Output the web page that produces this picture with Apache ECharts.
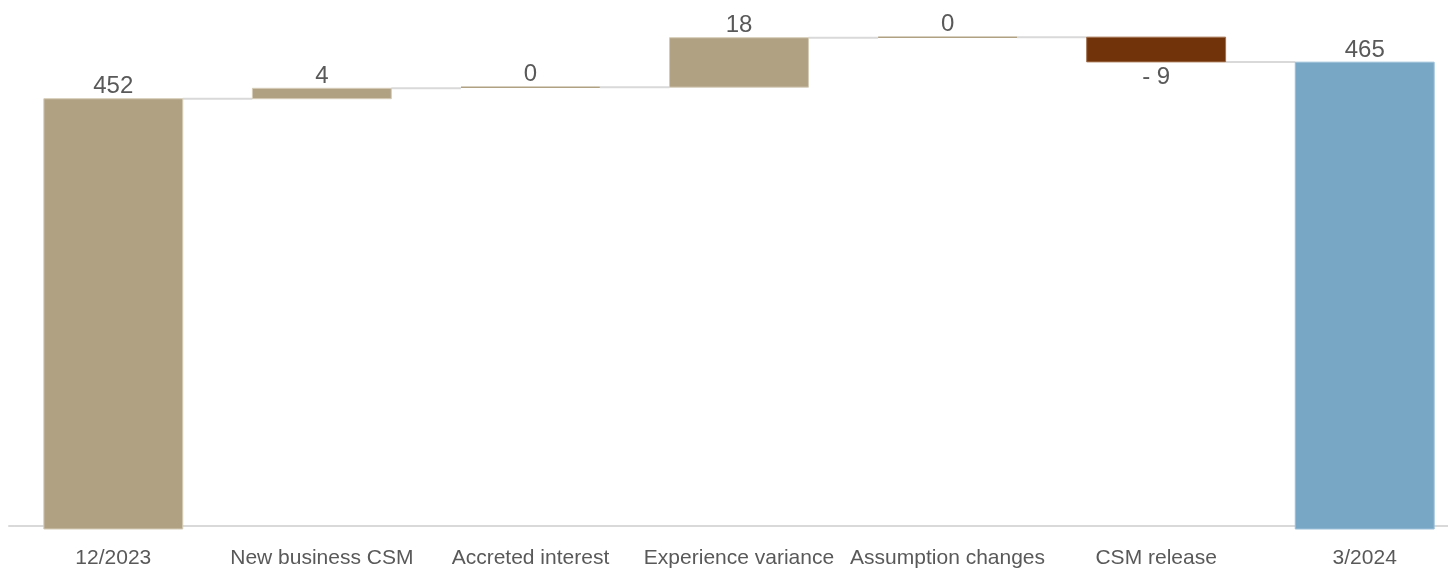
<!DOCTYPE html>
<html>
<head>
<meta charset="utf-8">
<script src="https://cdn.jsdelivr.net/npm/echarts@6/dist/echarts.min.js"></script>
<style>
html,body{margin:0;padding:0;background:#fff;overflow:hidden;width:1448px;height:569px;}
#chart{width:1469px;height:569px;}
</style>
</head>
<body>
<div id="chart"></div>
<script>
const categories = ['12/2023', 'New business CSM', 'Accreted interest', 'Experience variance', 'Assumption changes', 'CSM release', '3/2024'];
const openingTotal = 452;
const changes = [3.7, 0.4, 17.6, 0.2, -8.8];
const closingTotal = 465;
const yMin = 300;
const yMax = 480;

const TAN = '#b0a183', BROWN = '#71330a', BLUE = '#78a7c6', GRAY = '#d9d9d9', TEXT = '#595959';

// rows: [index, low, high, label value, kind(0 total,1 change,2 closing), connector level]
const rows = [];
rows.push([0, yMin, openingTotal, openingTotal, 0, openingTotal]);
let running = openingTotal;
changes.forEach((d, k) => {
  const start = running;
  running = running + d;
  rows.push([k + 1, Math.min(start, running), Math.max(start, running), d, 1, running]);
});
rows.push([categories.length - 1, yMin, closingTotal, closingTotal, 2, closingTotal]);

function fmt(v, kind) {
  if (kind !== 1) return String(v);
  const r = Math.round(v);
  return r < 0 ? '- ' + Math.abs(r) : String(Math.abs(r));
}

const chart = echarts.init(document.getElementById('chart'), null, {renderer: 'canvas'});
chart.setOption({
  animation: false,
  grid: {left: 9, right: 0, top: 20, bottom: 42},
  xAxis: {
    type: 'category',
    data: categories,
    axisLine: {lineStyle: {color: GRAY, width: 2}},
    axisTick: {show: false},
    axisLabel: {interval: 0, color: TEXT, fontSize: 21, fontFamily: 'Liberation Sans, Arial, sans-serif', margin: 22}
  },
  yAxis: {
    type: 'value', min: yMin, max: yMax, show: false, splitLine: {show: false}
  },
  series: [{
    type: 'custom',
    data: rows,
    clip: false,
    renderItem: function (params, api) {
      const i = api.value(0), lo = api.value(1), hi = api.value(2);
      const lv = api.value(3), kind = api.value(4), level = api.value(5);
      const bandW = api.size([1, 0])[0];
      const w = bandW * 0.666;
      const pTop = api.coord([i, hi]);
      const pBot = api.coord([i, lo]);
      const x = pTop[0] - w / 2;
      let yTop = pTop[1], yBot = pBot[1];
      if (kind !== 1) yBot += 3;
      let h = yBot - yTop;
      if (h < 1.5) { yTop -= 0.75; h = 1.5; }
      const color = kind === 2 ? BLUE : (kind === 1 && lv < 0 ? BROWN : TAN);
      const children = [];
      if (i < categories.length - 1) {
        const yl = api.coord([i, level])[1];
        children.push({
          type: 'line',
          shape: {x1: x + w, y1: yl, x2: x + bandW, y2: yl},
          style: {stroke: GRAY, lineWidth: 2}
        });
      }
      children.push({
        type: 'rect',
        shape: {x: x, y: yTop, width: w, height: h},
        style: {fill: color, stroke: kind === 2 ? '#9cc0d8' : (lv < 0 && kind === 1 ? '#a2704f' : '#d6ccb8'), lineWidth: h > 3 ? 1 : 0}
      });
      const neg = kind === 1 && lv < 0;
      children.push({
        type: 'text',
        style: {
          text: fmt(lv, kind),
          x: pTop[0],
          y: neg ? yBot + 3 : yTop,
          align: 'center',
          verticalAlign: neg ? 'top' : 'bottom',
          fill: TEXT,
          fontSize: 24,
          fontFamily: 'Liberation Sans, Arial, sans-serif'
        }
      });
      return {type: 'group', children: children};
    }
  }]
});
</script>
</body>
</html>
